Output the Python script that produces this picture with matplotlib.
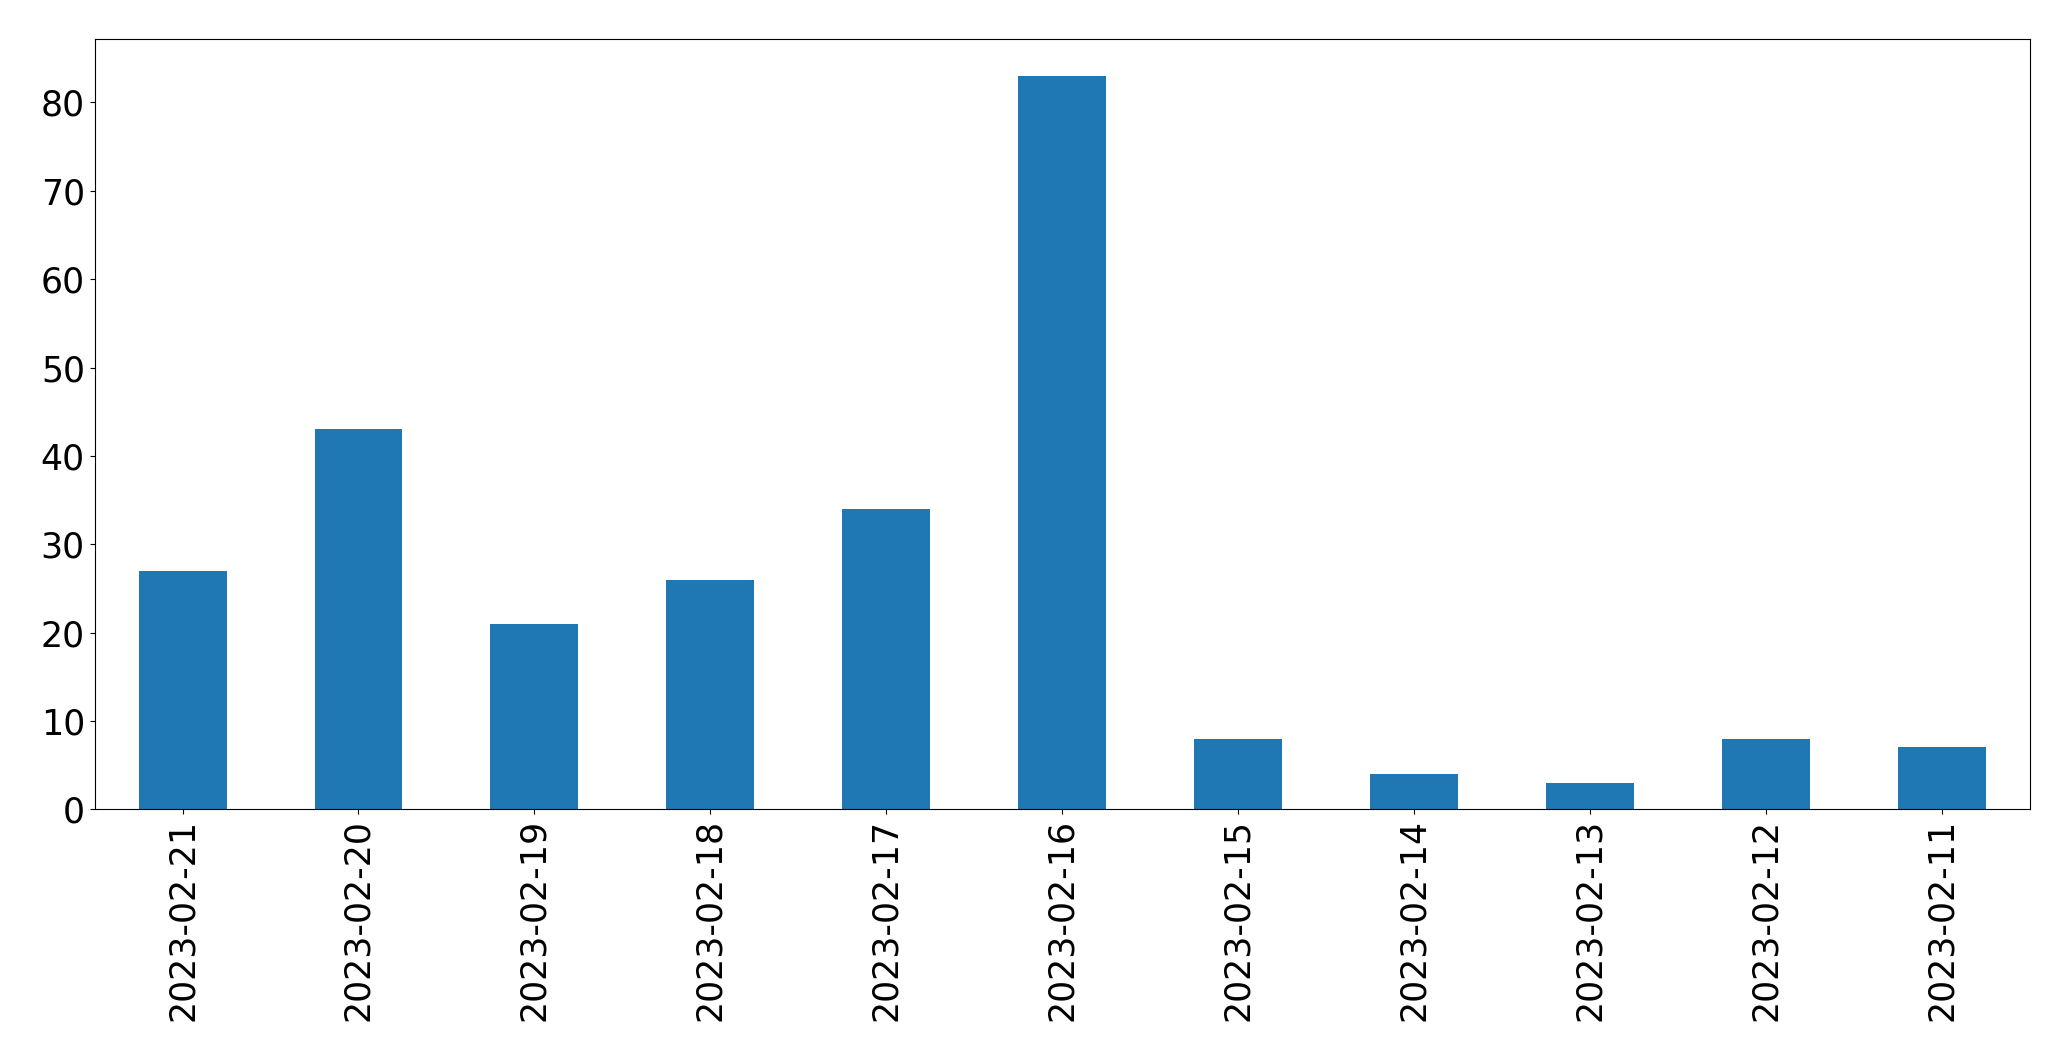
import matplotlib
matplotlib.use("Agg")
import matplotlib.pyplot as plt
import pandas as pd

# daily counts, newest first
dates = ["2023-02-21", "2023-02-20", "2023-02-19", "2023-02-18", "2023-02-17",
         "2023-02-16", "2023-02-15", "2023-02-14", "2023-02-13", "2023-02-12",
         "2023-02-11"]
counts = [27, 43, 21, 26, 34, 83, 8, 4, 3, 8, 7]

s = pd.Series(counts, index=dates)

fig = plt.figure(figsize=(20.71, 10.61), dpi=100)
ax = fig.add_axes([0.0457, 0.2372, 0.9343, 0.7258])
s.plot(kind="bar", ax=ax, color="#1f77b4", fontsize=25)

plt.savefig("out.png", dpi=100)
